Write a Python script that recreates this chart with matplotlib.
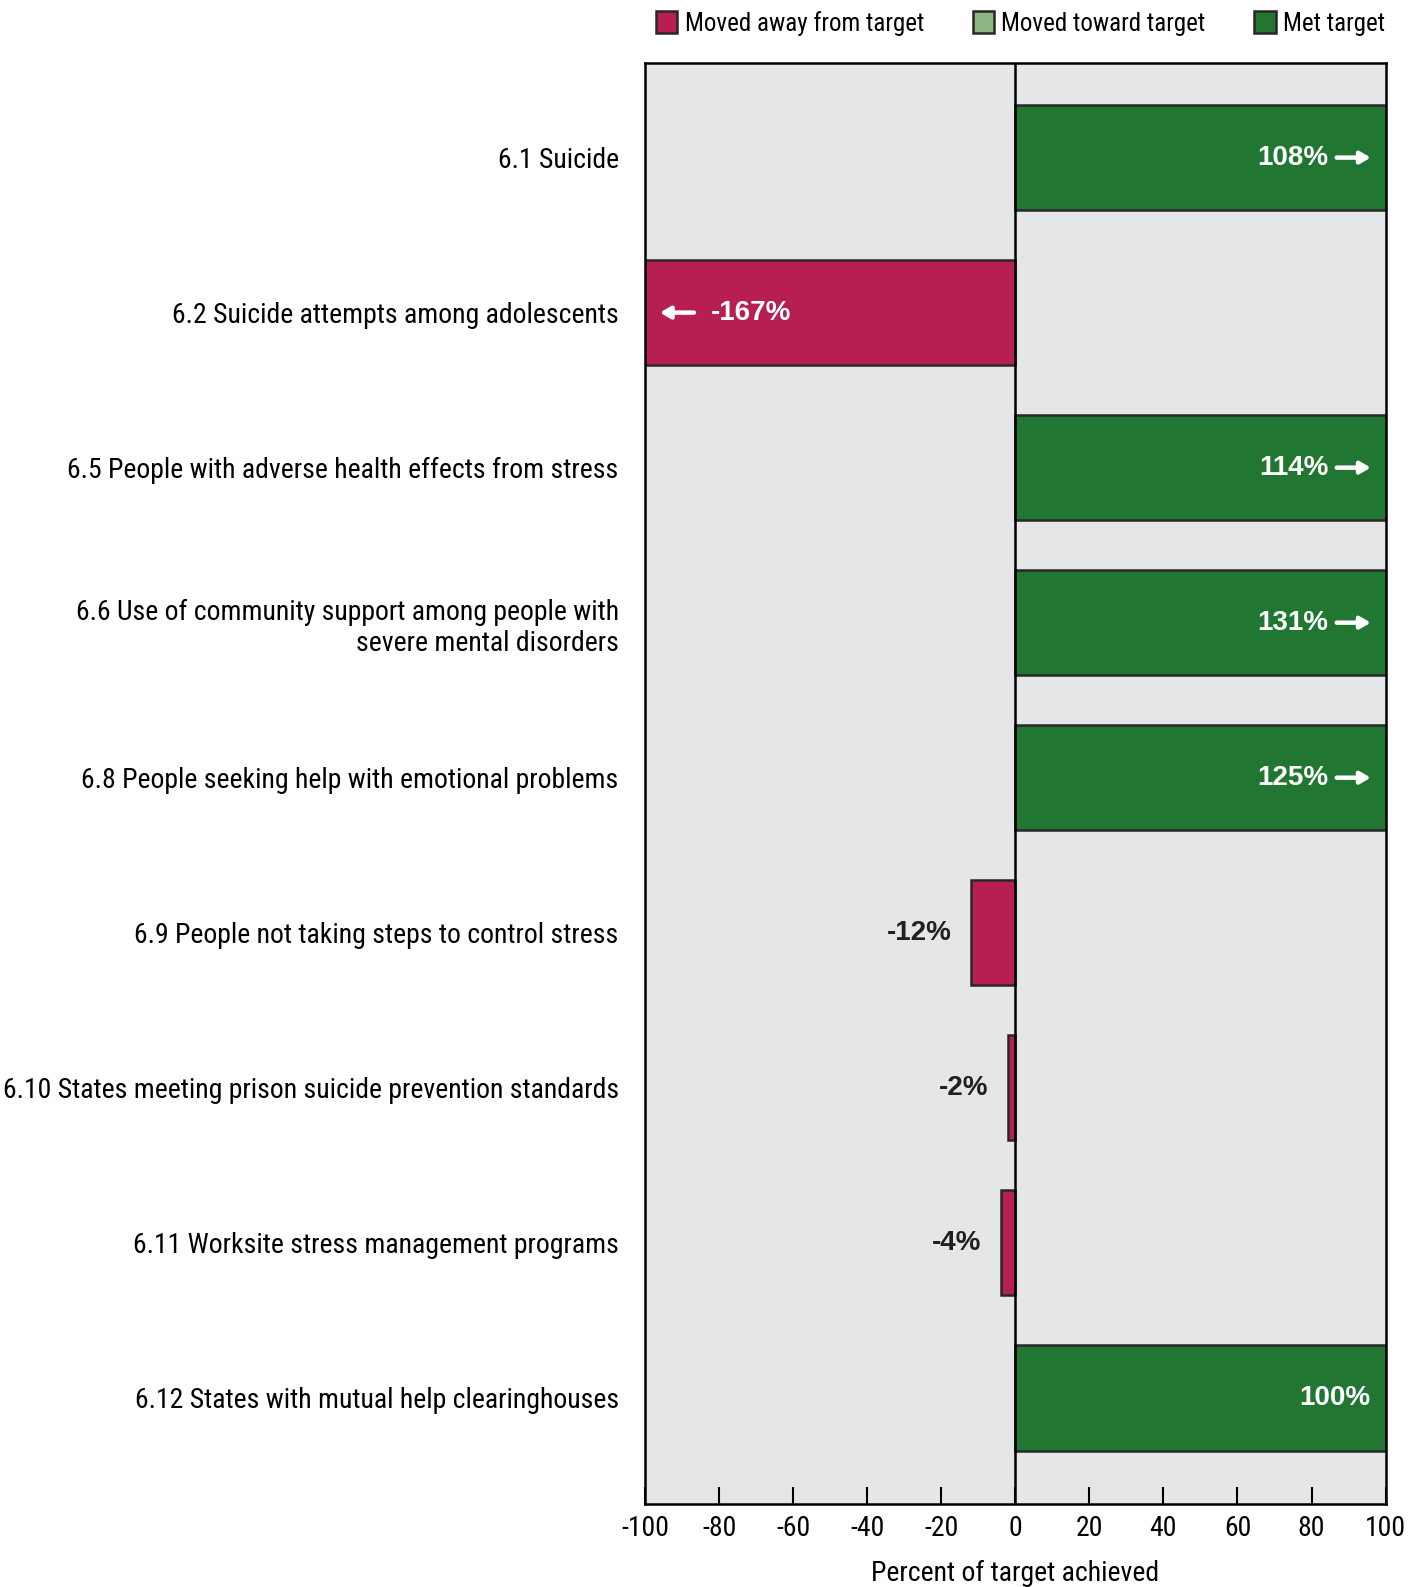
import matplotlib
matplotlib.use("Agg")
import matplotlib.pyplot as plt
from matplotlib import font_manager as fm
from matplotlib.patches import Patch

installed = set(f.name for f in fm.fontManager.ttflist)
narrow = [n for n in ["Roboto Condensed", "Archivo Narrow", "PT Sans Narrow", "Barlow Semi Condensed"]
          if n in installed][:1]
bold_font = [n for n in ["Liberation Sans", "Arimo"] if n in installed][:1] + ["DejaVu Sans"]
plt.rcParams['font.family'] = narrow + ["DejaVu Sans"]

# Data
labels = [
    "6.1 Suicide",
    "6.2 Suicide attempts among adolescents",
    "6.5 People with adverse health effects from stress",
    "6.6 Use of community support among people with\nsevere mental disorders",
    "6.8 People seeking help with emotional problems",
    "6.9 People not taking steps to control stress",
    "6.10 States meeting prison suicide prevention standards",
    "6.11 Worksite stress management programs",
    "6.12 States with mutual help clearinghouses",
]
values = [108, -167, 114, 131, 125, -12, -2, -4, 100]
status = ["met", "away", "met", "met", "met", "away", "away", "away", "met"]
xticks = [-100, -80, -60, -40, -20, 0, 20, 40, 60, 80, 100]

RED = "#B71E52"
LIGHT_GREEN = "#8DB684"
GREEN = "#217731"
BG = "#E5E6E8"
EDGE = "#2A2627"
colors = {"away": RED, "toward": LIGHT_GREEN, "met": GREEN}

fig = plt.figure(figsize=(14.24, 15.87), dpi=100)
ax = fig.add_axes([0.453, 0.0523, 0.520, 0.9077])
ax.set_facecolor(BG)

ypos = list(range(len(labels)))
ax.barh(ypos, values, height=0.68, color=[colors[s] for s in status],
        edgecolor=EDGE, linewidth=1.8, zorder=2)

ax.set_xlim(xticks[0], xticks[-1])
ax.set_ylim(len(labels) - 1 + 0.685, -0.607)
ax.axvline(0, color="black", linewidth=1.8, zorder=3)

xmin, xmax = ax.get_xlim()
lab_kw = dict(va="center", fontsize=20, fontweight="bold", family=bold_font, zorder=4)
arrow_kw = dict(arrowstyle="-|>,head_length=0.6,head_width=0.35", color="white", lw=3.2,
                shrinkA=0, shrinkB=0)

# value labels, with arrows where the bar runs off the scale
for y, v in zip(ypos, values):
    if v > xmax:
        ax.annotate("", xy=(xmax - 4, y), xytext=(xmax - 13.2, y), arrowprops=arrow_kw, zorder=4)
        ax.text(xmax - 15.5, y, f"{v}%", ha="right", color="white", **lab_kw)
    elif v == xmax:
        ax.text(xmax - 4, y, f"{v}%", ha="right", color="white", **lab_kw)
    elif v < xmin:
        ax.annotate("", xy=(xmin + 4, y), xytext=(xmin + 13.2, y), arrowprops=arrow_kw, zorder=4)
        ax.text(xmin + 17.9, y, f"{v}%", ha="left", color="white", **lab_kw)
    else:
        ax.annotate(f"{v}%", xy=(v, y), xytext=(-14, 0), textcoords="offset points",
                    ha="right", color="#231F20", **lab_kw)

ax.set_yticks(ypos)
ax.set_yticklabels(labels, fontsize=20)
ax.tick_params(axis="y", length=0, pad=19)

ax.set_xticks(xticks)
ax.set_xticklabels([str(t) for t in xticks], fontsize=20)
ax.tick_params(axis="x", direction="in", length=12, width=1.5, pad=8)
ax.set_xlabel("Percent of target achieved", fontsize=20, labelpad=13)

for sp in ax.spines.values():
    sp.set_linewidth(1.8)
    sp.set_color("black")

handles = [Patch(facecolor=RED, edgecolor=EDGE, linewidth=1.8, label="Moved away from target"),
           Patch(facecolor=LIGHT_GREEN, edgecolor=EDGE, linewidth=1.8, label="Moved toward target"),
           Patch(facecolor=GREEN, edgecolor=EDGE, linewidth=1.8, label="Met target")]
ax.legend(handles=handles, loc="lower right", bbox_to_anchor=(1.02, 1.009), ncol=3,
          frameon=False, fontsize=18, handlelength=0.85, handleheight=0.95,
          handletextpad=0.3, columnspacing=1.95, borderaxespad=0.2)

fig.savefig("out.png", dpi=100)
